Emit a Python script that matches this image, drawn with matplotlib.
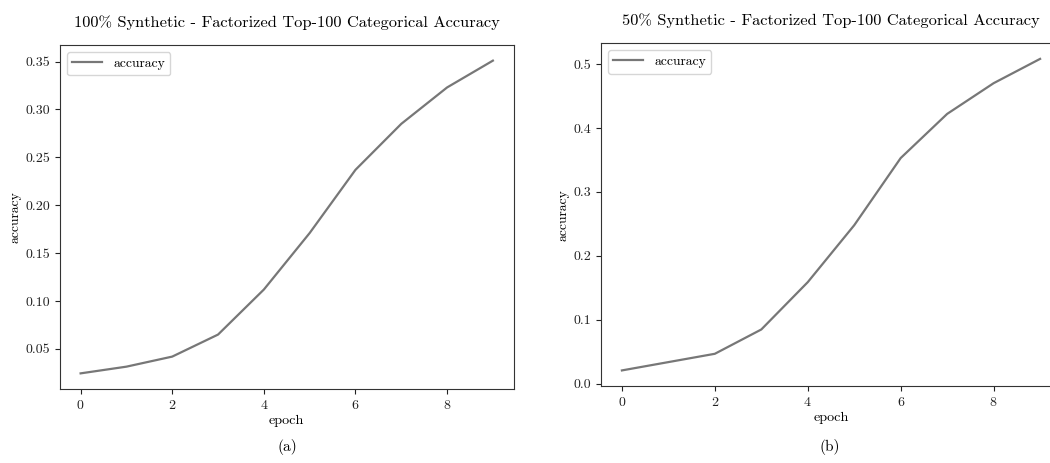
import matplotlib
matplotlib.use("Agg")
import matplotlib.pyplot as plt
import numpy as np

plt.rcParams['font.family'] = ['cmr10', 'DejaVu Serif']
plt.rcParams['axes.formatter.use_mathtext'] = True
plt.rcParams['mathtext.fontset'] = 'cm'

epochs = [0, 1, 2, 3, 4, 5, 6, 7, 8, 9]
acc_100 = [0.0245, 0.0315, 0.042, 0.065, 0.112, 0.171, 0.237, 0.285, 0.323, 0.351]
acc_50 = [0.021, 0.034, 0.047, 0.085, 0.159, 0.248, 0.353, 0.422, 0.470, 0.508]
titles = ["100% Synthetic - Factorized Top-100 Categorical Accuracy",
          "50% Synthetic - Factorized Top-100 Categorical Accuracy"]
captions = ["(a)", "(b)"]

W, H = 1050, 463
fig = plt.figure(figsize=(W / 100, H / 100), dpi=100)

def px_axes(x0, x1, ytop, ybot):
    return fig.add_axes([x0 / W, (H - ybot) / H, (x1 - x0) / W, (ybot - ytop) / H])

ax1 = px_axes(60, 513.5, 45, 389)
ax2 = px_axes(601, 1061, 43.3, 386)

line_color = '#777777'
spine_color = '#333333'
for ax, y, t in [(ax1, acc_100, titles[0]), (ax2, acc_50, titles[1])]:
    ax.plot(epochs, y, color=line_color, lw=1.6, label='accuracy')
    ax.set_xlabel('epoch', fontsize=10.2, labelpad=2)
    ax.set_ylabel('accuracy', fontsize=9.8, labelpad=3)
    ax.set_title(t, fontsize=11.8, pad=13)
    ax.set_xticks([0, 2, 4, 6, 8])
    ax.tick_params(labelsize=10, colors='#222222', length=3.5)
    for s in ax.spines.values():
        s.set_color(spine_color)
    leg = ax.legend(loc='upper left', fontsize=9.8, handlelength=2.2, fancybox=True)
    leg.get_frame().set_edgecolor('#cccccc')

ax1.set_yticks([0.05, 0.10, 0.15, 0.20, 0.25, 0.30, 0.35])
ax1.set_yticklabels(['0.05', '0.10', '0.15', '0.20', '0.25', '0.30', '0.35'])
ax2.set_yticks([0.0, 0.1, 0.2, 0.3, 0.4, 0.5])
ax2.set_yticklabels(['0.0', '0.1', '0.2', '0.3', '0.4', '0.5'])

fig.text(287 / W, 1 - 447 / H, captions[0], ha='center', va='center', fontsize=11)
fig.text(830 / W, 1 - 447 / H, captions[1], ha='center', va='center', fontsize=11)

fig.savefig('out.png', dpi=100)
